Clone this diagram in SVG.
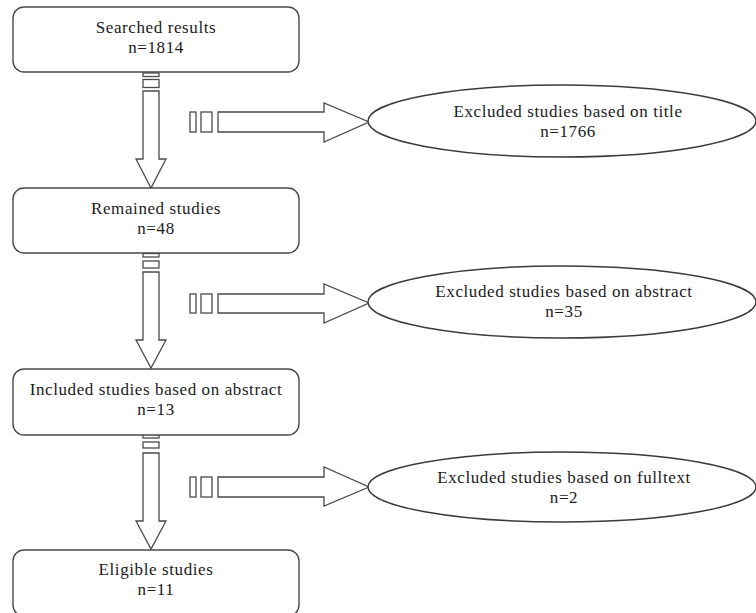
<svg xmlns="http://www.w3.org/2000/svg" width="756" height="613" viewBox="0 0 756 613">
<style>
.box{fill:#fff;stroke:#4a4a4a;stroke-width:1.4}
.ell{fill:#fff;stroke:#3a3a3a;stroke-width:1.4}
.arr{fill:#fff;stroke:#4a4a4a;stroke-width:1.3}
text{font-family:"Liberation Serif","Times New Roman",serif;font-size:17px;letter-spacing:0.6px;fill:#1a1a1a;text-anchor:middle}
</style>
<rect width="756" height="613" fill="#fff"/>
<g id="connectors">
  <rect class="arr" x="143" y="73" width="16" height="3.5"/>
  <rect class="arr" x="143" y="79.5" width="16" height="8"/>
  <polygon class="arr" points="143,91 159,91 159,159 166,159 151,188 136,159 143,159"/>
  <rect class="arr" x="143" y="253.5" width="16" height="3.5"/>
  <rect class="arr" x="143" y="261" width="16" height="7"/>
  <polygon class="arr" points="143,272 159,272 159,340 166,340 151,368 136,340 143,340"/>
  <rect class="arr" x="143" y="434.5" width="16" height="3.5"/>
  <rect class="arr" x="143" y="442" width="16" height="6"/>
  <polygon class="arr" points="143,453 159,453 159,521 166,521 151,549 136,521 143,521"/>
  <rect class="arr" x="190" y="112" width="6" height="20"/>
  <rect class="arr" x="201" y="112" width="11" height="20"/>
  <polygon class="arr" points="218,112 324,112 324,103 369,122 324,142 324,132 218,132"/>
  <rect class="arr" x="190" y="294" width="6" height="19"/>
  <rect class="arr" x="201" y="294" width="11" height="19"/>
  <polygon class="arr" points="218,294 324,294 324,284 369,303 324,323 324,313 218,313"/>
  <rect class="arr" x="190" y="477" width="6" height="20"/>
  <rect class="arr" x="201" y="477" width="11" height="20"/>
  <polygon class="arr" points="218,477 324,477 324,467 369,487 324,506 324,497 218,497"/>
</g>
<g id="n1">
  <rect class="box" x="13" y="7" width="286" height="65" rx="11"/>
  <text x="156" y="33">Searched results</text>
  <text x="156" y="53">n=1814</text>
</g>
<g id="e1">
  <ellipse class="ell" cx="562" cy="121" rx="194" ry="36"/>
  <text x="568" y="117">Excluded studies based on title</text>
  <text x="568" y="137">n=1766</text>
</g>
<g id="n2">
  <rect class="box" x="13" y="188" width="286" height="65" rx="11"/>
  <text x="156" y="214">Remained studies</text>
  <text x="156" y="234">n=48</text>
</g>
<g id="e2">
  <ellipse class="ell" cx="562" cy="302" rx="194" ry="36"/>
  <text x="564" y="297">Excluded studies based on abstract</text>
  <text x="564" y="317">n=35</text>
</g>
<g id="n3">
  <rect class="box" x="13" y="369" width="286" height="66" rx="11"/>
  <text x="156" y="395">Included studies based on abstract</text>
  <text x="156" y="415">n=13</text>
</g>
<g id="e3">
  <ellipse class="ell" cx="562" cy="487" rx="194" ry="35"/>
  <text x="564" y="483">Excluded studies based on fulltext</text>
  <text x="564" y="503">n=2</text>
</g>
<g id="n4">
  <rect class="box" x="13" y="550" width="286" height="66" rx="11"/>
  <text x="156" y="575">Eligible studies</text>
  <text x="156" y="595">n=11</text>
</g>
</svg>
